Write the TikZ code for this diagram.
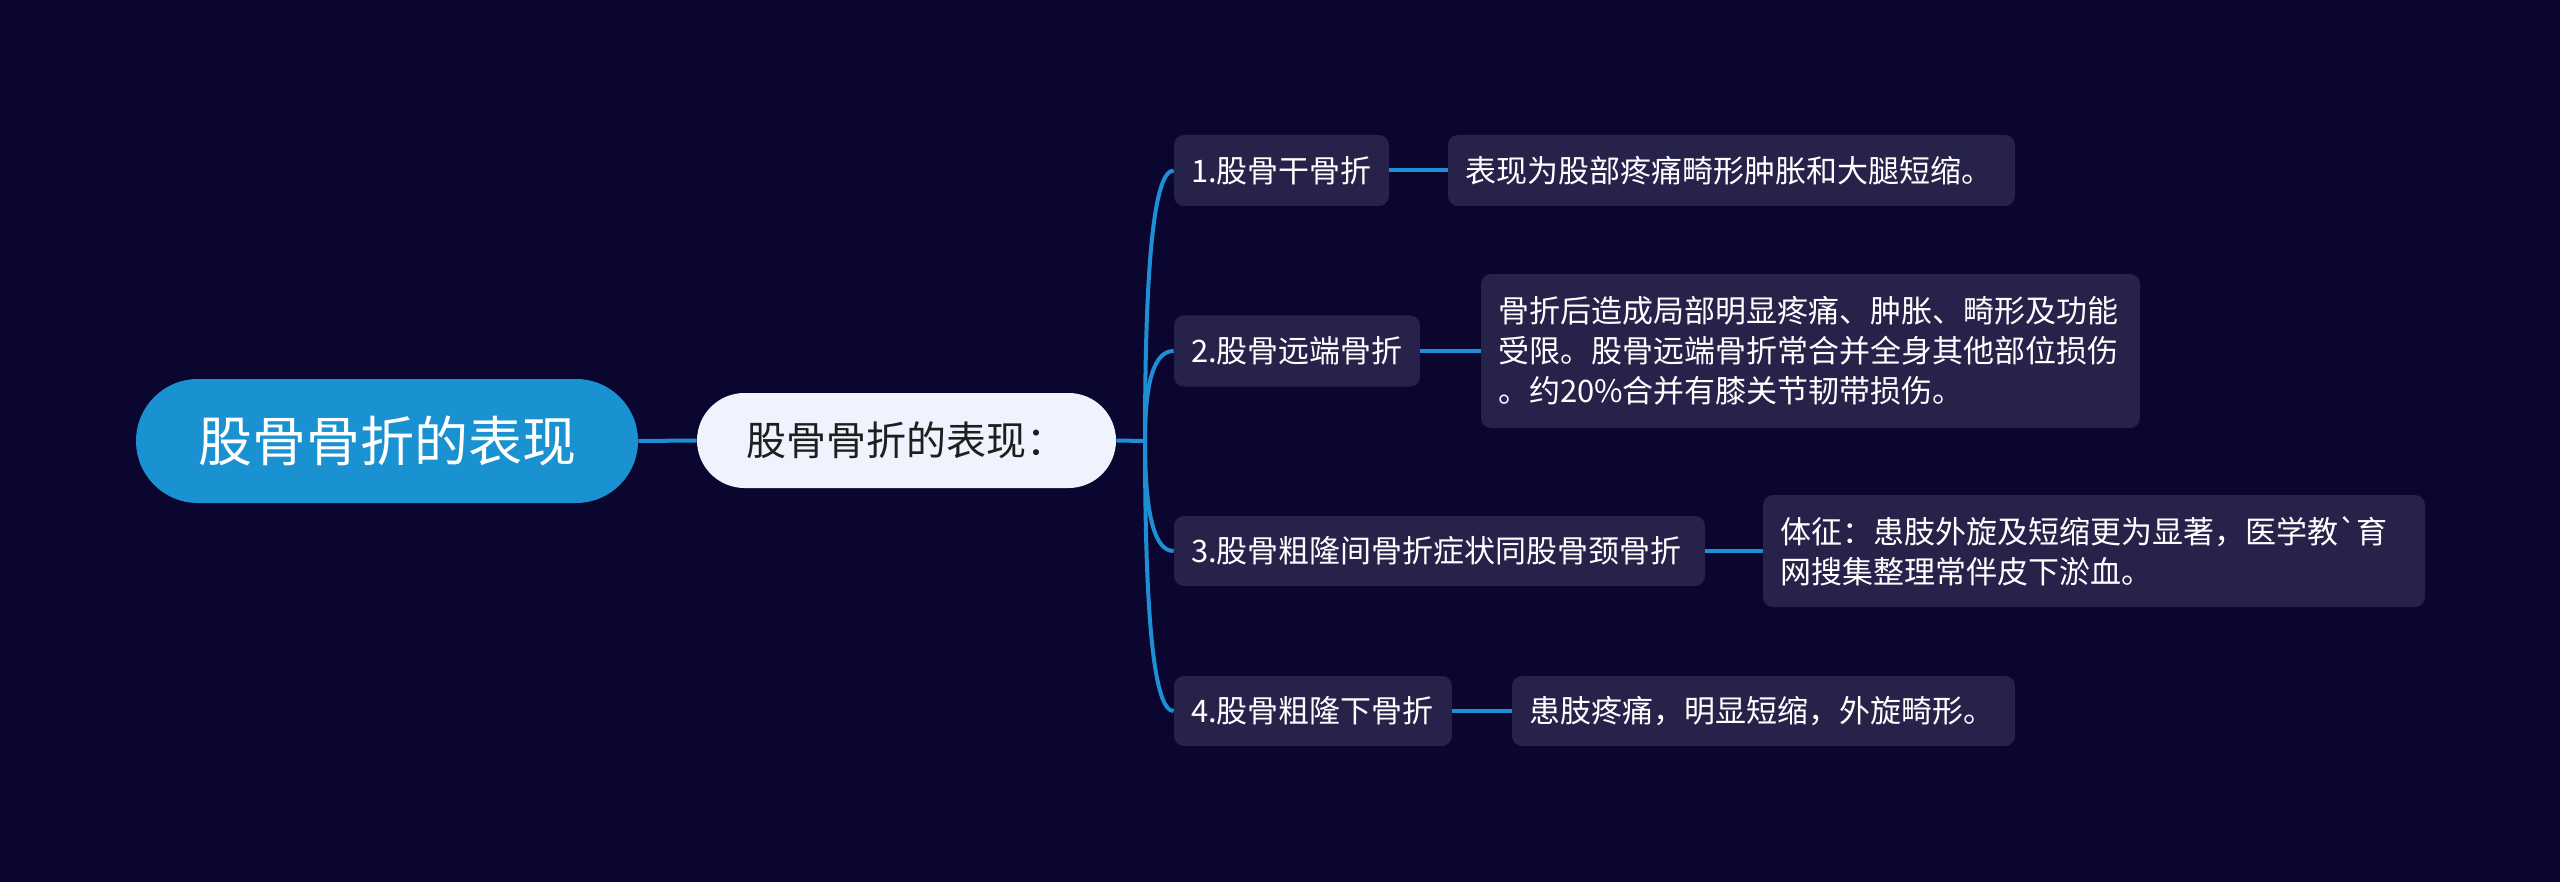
\documentclass[tikz,border=0pt]{standalone}
\usepackage{fontspec}
\newfontfamily\cjk{Noto Sans CJK SC}
\definecolor{bgc}{RGB}{11,6,48}
\definecolor{rootc}{RGB}{26,146,210}
\definecolor{subc}{RGB}{238,243,253}
\definecolor{nodec}{RGB}{38,34,74}
\definecolor{linec}{RGB}{30,143,213}
\definecolor{darktext}{RGB}{30,30,30}
\tikzset{
  rootnode/.style={font=\cjk\fontsize{27}{32}\selectfont, text=white, fill=rootc, rounded corners=31pt, minimum width=251pt, minimum height=62pt, inner sep=0pt},
  subnode/.style={font=\cjk\fontsize{20}{24}\selectfont, text=darktext, fill=subc, rounded corners=23.75pt, minimum width=209.5pt, minimum height=47.5pt, inner sep=0pt},
  leaf/.style={font=\cjk\fontsize{15.5}{20}\selectfont, text=white, fill=nodec, rounded corners=5pt, inner xsep=8.5pt, inner ysep=0pt, align=left, minimum height=35.5pt},
  conn/.style={draw=linec, line width=2pt},
}
\begin{document}
\begin{tikzpicture}[x=0.5pt,y=-0.5pt]
\fill[bgc] (0,0) rectangle (2560,882);
\node[rootnode] (root) at (387,441) {股骨骨折的表现};
\node[subnode] (sub) at (906.5,440.5) {股骨骨折的表现：};
\coordinate (j) at (1145,441);
\node[leaf, text width=90.5pt] (n1) at (1281.5,170.5) {1.股骨干骨折};
\node[leaf, text width=106pt] (n2) at (1297,351) {2.股骨远端骨折};
\node[leaf, text width=248.5pt, minimum height=35pt] (n3) at (1439.5,551) {3.股骨粗隆间骨折症状同股骨颈骨折};
\node[leaf, text width=122pt, minimum height=35pt] (n4) at (1313,711) {4.股骨粗隆下骨折};
\node[leaf, text width=266.5pt] (m1) at (1731.5,170.5) {表现为股部疼痛畸形肿胀和大腿短缩。};
\node[leaf, text width=312.5pt, minimum height=77pt] (m2) at (1810.5,351) {骨折后造成局部明显疼痛、肿胀、畸形及功能\\受限。股骨远端骨折常合并全身其他部位损伤\\。约20\%合并有膝关节韧带损伤。};
\node[leaf, text width=314pt, minimum height=56pt] (m3) at (2094,551) {体征：患肢外旋及短缩更为显著，医学教`育\\网搜集整理常伴皮下淤血。};
\node[leaf, text width=234.5pt, minimum height=35pt] (m4) at (1763.5,711) {患肢疼痛，明显短缩，外旋畸形。};
\draw[conn] (root.east) -- (sub.west);
\draw[conn] (sub.east) -- (j);
\draw[conn] (j) .. controls +(0,-180.3) and +(-19.3,0) .. (n1.west);
\draw[conn] (j) .. controls +(0,-60) and +(-19.3,0) .. (n2.west);
\draw[conn] (j) .. controls +(0,73.3) and +(-19.3,0) .. (n3.west);
\draw[conn] (j) .. controls +(0,180) and +(-19.3,0) .. (n4.west);
\draw[conn] (n1.east) -- (m1.west);
\draw[conn] (n2.east) -- (m2.west);
\draw[conn] (n3.east) -- (m3.west);
\draw[conn] (n4.east) -- (m4.west);
\end{tikzpicture}
\end{document}
